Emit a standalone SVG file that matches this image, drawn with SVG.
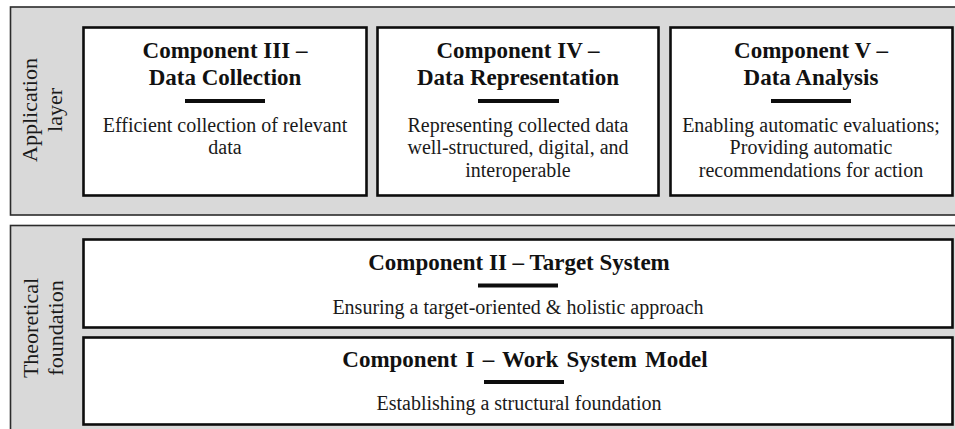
<svg xmlns="http://www.w3.org/2000/svg" width="955" height="429" viewBox="0 0 955 429">
  <style>
    .panel { fill: #d9d9d9; stroke: #2b2b2b; stroke-width: 1.6; }
    .box { fill: #ffffff; stroke: #0d0d0d; stroke-width: 2.6; }
    .bar { fill: #0d0d0d; }
    text { font-family: 'Liberation Serif', 'DejaVu Serif', serif; }
    .title { font-size: 23px; font-weight: bold; fill: #111111; text-anchor: middle; }
    .body { font-size: 20px; fill: #1a1a1a; text-anchor: middle; }
    .side { font-size: 22px; fill: #1a1a1a; text-anchor: middle; }
  </style>

  <!-- Layer panels -->
  <g id="application-layer">
    <rect class="panel" x="10.5" y="7" width="960" height="208"/>
    <text class="side" transform="translate(37,110) rotate(-90)">Application</text>
    <text class="side" transform="translate(62,110) rotate(-90)">layer</text>
  </g>
  <g id="theoretical-foundation">
    <rect class="panel" x="10.5" y="225.5" width="960" height="220"/>
    <text class="side" transform="translate(38,328) rotate(-90)">Theoretical</text>
    <text class="side" transform="translate(63,328) rotate(-90)">foundation</text>
  </g>

  <!-- Application layer components -->
  <g id="component-3">
    <rect class="box" x="83.5" y="27.5" width="283" height="168"/>
    <text class="title" x="225" y="58">Component III –</text>
    <text class="title" x="225" y="85">Data Collection</text>
    <rect class="bar" x="185" y="99" width="80" height="4"/>
    <text class="body" x="225" y="131.5">Efficient collection of relevant</text>
    <text class="body" x="225" y="154">data</text>
  </g>
  <g id="component-4">
    <rect class="box" x="377.5" y="27.5" width="281" height="168"/>
    <text class="title" x="518" y="58">Component IV –</text>
    <text class="title" x="518" y="85">Data Representation</text>
    <rect class="bar" x="478" y="99" width="81" height="4"/>
    <text class="body" x="518" y="131.5">Representing collected data</text>
    <text class="body" x="518" y="154">well-structured, digital, and</text>
    <text class="body" x="518" y="176.5">interoperable</text>
  </g>
  <g id="component-5">
    <rect class="box" x="670.5" y="27.5" width="282" height="168"/>
    <text class="title" x="811" y="58">Component V –</text>
    <text class="title" x="811" y="85">Data Analysis</text>
    <rect class="bar" x="771" y="99" width="80" height="4"/>
    <text class="body" x="811" y="131.5">Enabling automatic evaluations;</text>
    <text class="body" x="811" y="154">Providing automatic</text>
    <text class="body" x="811" y="176.5">recommendations for action</text>
  </g>

  <!-- Theoretical foundation components -->
  <g id="component-2">
    <rect class="box" x="83.5" y="239.5" width="869" height="88"/>
    <text class="title" x="519" y="270">Component II – Target System</text>
    <rect class="bar" x="478" y="283.5" width="80" height="4"/>
    <text class="body" x="518" y="314">Ensuring a target-oriented &amp; holistic approach</text>
  </g>
  <g id="component-1">
    <rect class="box" x="83.5" y="337.5" width="869" height="87"/>
    <text class="title" x="525" y="367" word-spacing="2.5">Component I – Work System Model</text>
    <rect class="bar" x="484" y="380" width="80" height="4"/>
    <text class="body" x="519" y="410">Establishing a structural foundation</text>
  </g>

  <!-- No connectors: the layers are stacked without links -->
  <g id="connectors"/>
</svg>
